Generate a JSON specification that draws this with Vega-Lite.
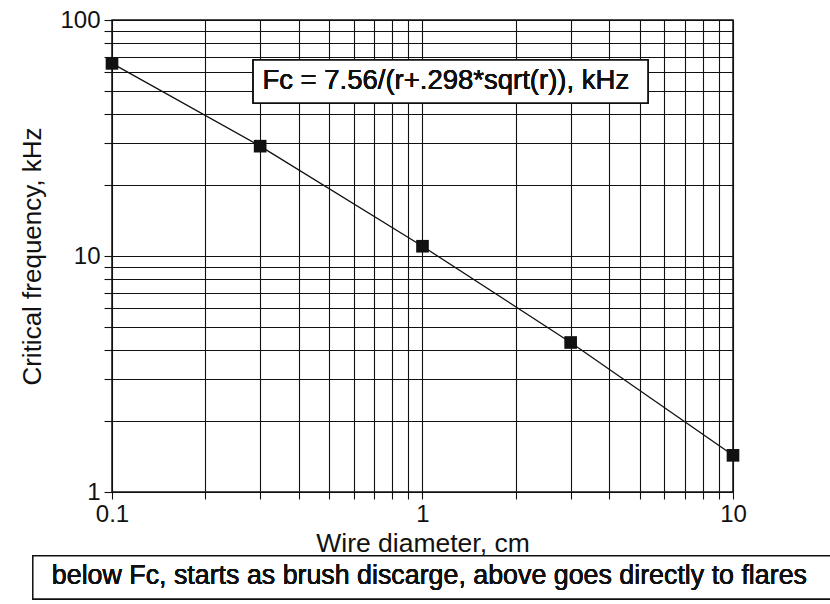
{
  "$schema": "https://vega.github.io/schema/vega-lite/v6.json",
  "width": 621,
  "height": 472,
  "autosize": {"type": "none"},
  "padding": {"left": 112, "top": 20, "right": 97, "bottom": 112},
  "background": "white",
  "config": {
    "view": {"stroke": "#111", "strokeWidth": 1.5},
    "font": "Liberation Sans"
  },
  "data": {
    "values": [
      {"d": 0.1, "fc": 65.5},
      {"d": 0.3, "fc": 29.2},
      {"d": 1, "fc": 11.0},
      {"d": 3, "fc": 4.3},
      {"d": 10, "fc": 1.43}
    ]
  },
  "encoding": {
    "x": {
      "field": "d",
      "type": "quantitative",
      "scale": {"type": "log", "domain": [0.1, 10], "nice": false},
      "axis": {
        "values": [0.1, 0.2, 0.3, 0.4, 0.5, 0.6, 0.7, 0.8, 0.9, 1, 2, 3, 4, 5, 6, 7, 8, 9, 10],
        "labelExpr": "datum.value == 0.1 ? '0.1' : datum.value == 1 ? '1' : datum.value == 10 ? '10' : ''",
        "labelOverlap": false,
        "labelFlush": false,
        "grid": true,
        "gridColor": "#111",
        "gridOpacity": 1,
        "gridWidth": 1.1,
        "domain": false,
        "tickColor": "#111",
        "tickSize": 7,
        "tickWidth": 1.1,
        "labelFontSize": 24,
        "labelColor": "#111",
        "labelPadding": 3,
        "title": "Wire diameter, cm",
        "titleFontSize": 26.5,
        "titleFontWeight": "normal",
        "titleColor": "#111",
        "titlePadding": 4
      }
    },
    "y": {
      "field": "fc",
      "type": "quantitative",
      "scale": {"type": "log", "domain": [1, 100], "nice": false},
      "axis": {
        "values": [1, 2, 3, 4, 5, 6, 7, 8, 9, 10, 20, 30, 40, 50, 60, 70, 80, 90, 100],
        "labelExpr": "datum.value == 1 ? '1' : datum.value == 10 ? '10' : datum.value == 100 ? '100' : ''",
        "labelOverlap": false,
        "labelFlush": false,
        "grid": true,
        "gridColor": "#111",
        "gridOpacity": 1,
        "gridWidth": 1.1,
        "domain": false,
        "tickColor": "#111",
        "tickSize": 8,
        "tickWidth": 1.1,
        "labelFontSize": 24,
        "labelColor": "#111",
        "labelPadding": 4,
        "title": "Critical frequency, kHz",
        "titleFontSize": 26,
        "titleFontWeight": "normal",
        "titleColor": "#111",
        "titlePadding": 14
      }
    }
  },
  "layer": [
    {"mark": {"type": "line", "color": "#111", "strokeWidth": 1.3}},
    {"mark": {"type": "point", "shape": "square", "filled": true, "color": "#111", "size": 160, "opacity": 1}},
    {
      "mark": {"type": "rect", "fill": "white", "stroke": "#111", "strokeWidth": 1.4},
      "encoding": {
        "x": {"datum": 0.285},
        "x2": {"datum": 5.32},
        "y": {"datum": 67.7},
        "y2": {"datum": 44.5}
      }
    },
    {
      "mark": {"type": "text", "align": "left", "baseline": "middle", "fontSize": 27.5, "color": "#111", "text": "Fc = 7.56/(r+.298*sqrt(r)), kHz"},
      "encoding": {
        "x": {"datum": 0.305},
        "y": {"datum": 55.1}
      }
    },
    {
      "mark": {"type": "rect", "fill": "white", "stroke": "#111", "strokeWidth": 1.4},
      "encoding": {
        "x": {"datum": 0.0556},
        "x2": {"datum": 30},
        "y": {"datum": 0.536},
        "y2": {"datum": 0.352}
      }
    },
    {
      "mark": {"type": "text", "align": "left", "baseline": "middle", "fontSize": 26.8, "color": "#111", "text": "below Fc, starts as brush discarge, above goes directly to flares"},
      "encoding": {
        "x": {"datum": 0.064},
        "y": {"datum": 0.44}
      }
    }
  ]
}
